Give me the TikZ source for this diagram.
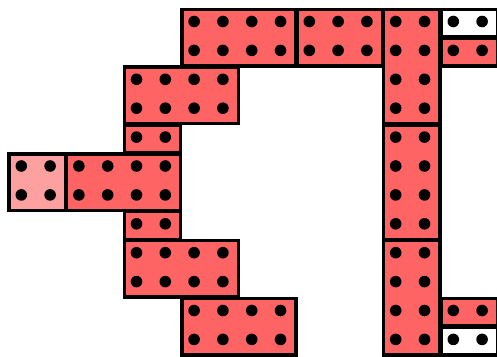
\documentclass[tikz,border=0pt]{standalone}
\definecolor{brickred}{HTML}{FF6464}
\definecolor{brickpink}{HTML}{FFA0A0}
\tikzset{
  brickbox/.style={draw=black, line width=3.4pt},
  stud/.style={fill=black}
}
\newcommand\mybrick[5]{%
  \filldraw[brickbox, fill=#5] ({8.5+#1*28.8+0.6},{8.7+#2*28.9+0.6}) rectangle ({8.5+#3*28.8-0.6},{8.7+#4*28.9-0.6});
  \pgfmathtruncatemacro\myCA{#3-1}%
  \pgfmathtruncatemacro\myRA{#4-1}%
  \foreach \i in {#1,...,\myCA}{%
    \foreach \j in {#2,...,\myRA}{%
      \fill[stud] ({8.5+\i*28.8+12.8},{8.7+\j*28.9+12.8}) circle (5.8);
    }%
  }%
}
\begin{document}
\begin{tikzpicture}[x=1pt,y=-1pt]
\useasboundingbox (0,0) rectangle (497,356);
\mybrick{6}{0}{10}{2}{brickred}
\mybrick{10}{0}{13}{2}{brickred}
\mybrick{13}{0}{15}{4}{brickred}
\mybrick{15}{0}{17}{1}{white}
\mybrick{15}{1}{17}{2}{brickred}
\mybrick{4}{2}{8}{4}{brickred}
\mybrick{4}{4}{6}{5}{brickred}
\mybrick{0}{5}{2}{7}{brickpink}
\mybrick{2}{5}{6}{7}{brickred}
\mybrick{4}{7}{6}{8}{brickred}
\mybrick{4}{8}{8}{10}{brickred}
\mybrick{6}{10}{10}{12}{brickred}
\mybrick{13}{4}{15}{8}{brickred}
\mybrick{13}{8}{15}{12}{brickred}
\mybrick{15}{10}{17}{11}{brickred}
\mybrick{15}{11}{17}{12}{white}
\end{tikzpicture}
\end{document}
